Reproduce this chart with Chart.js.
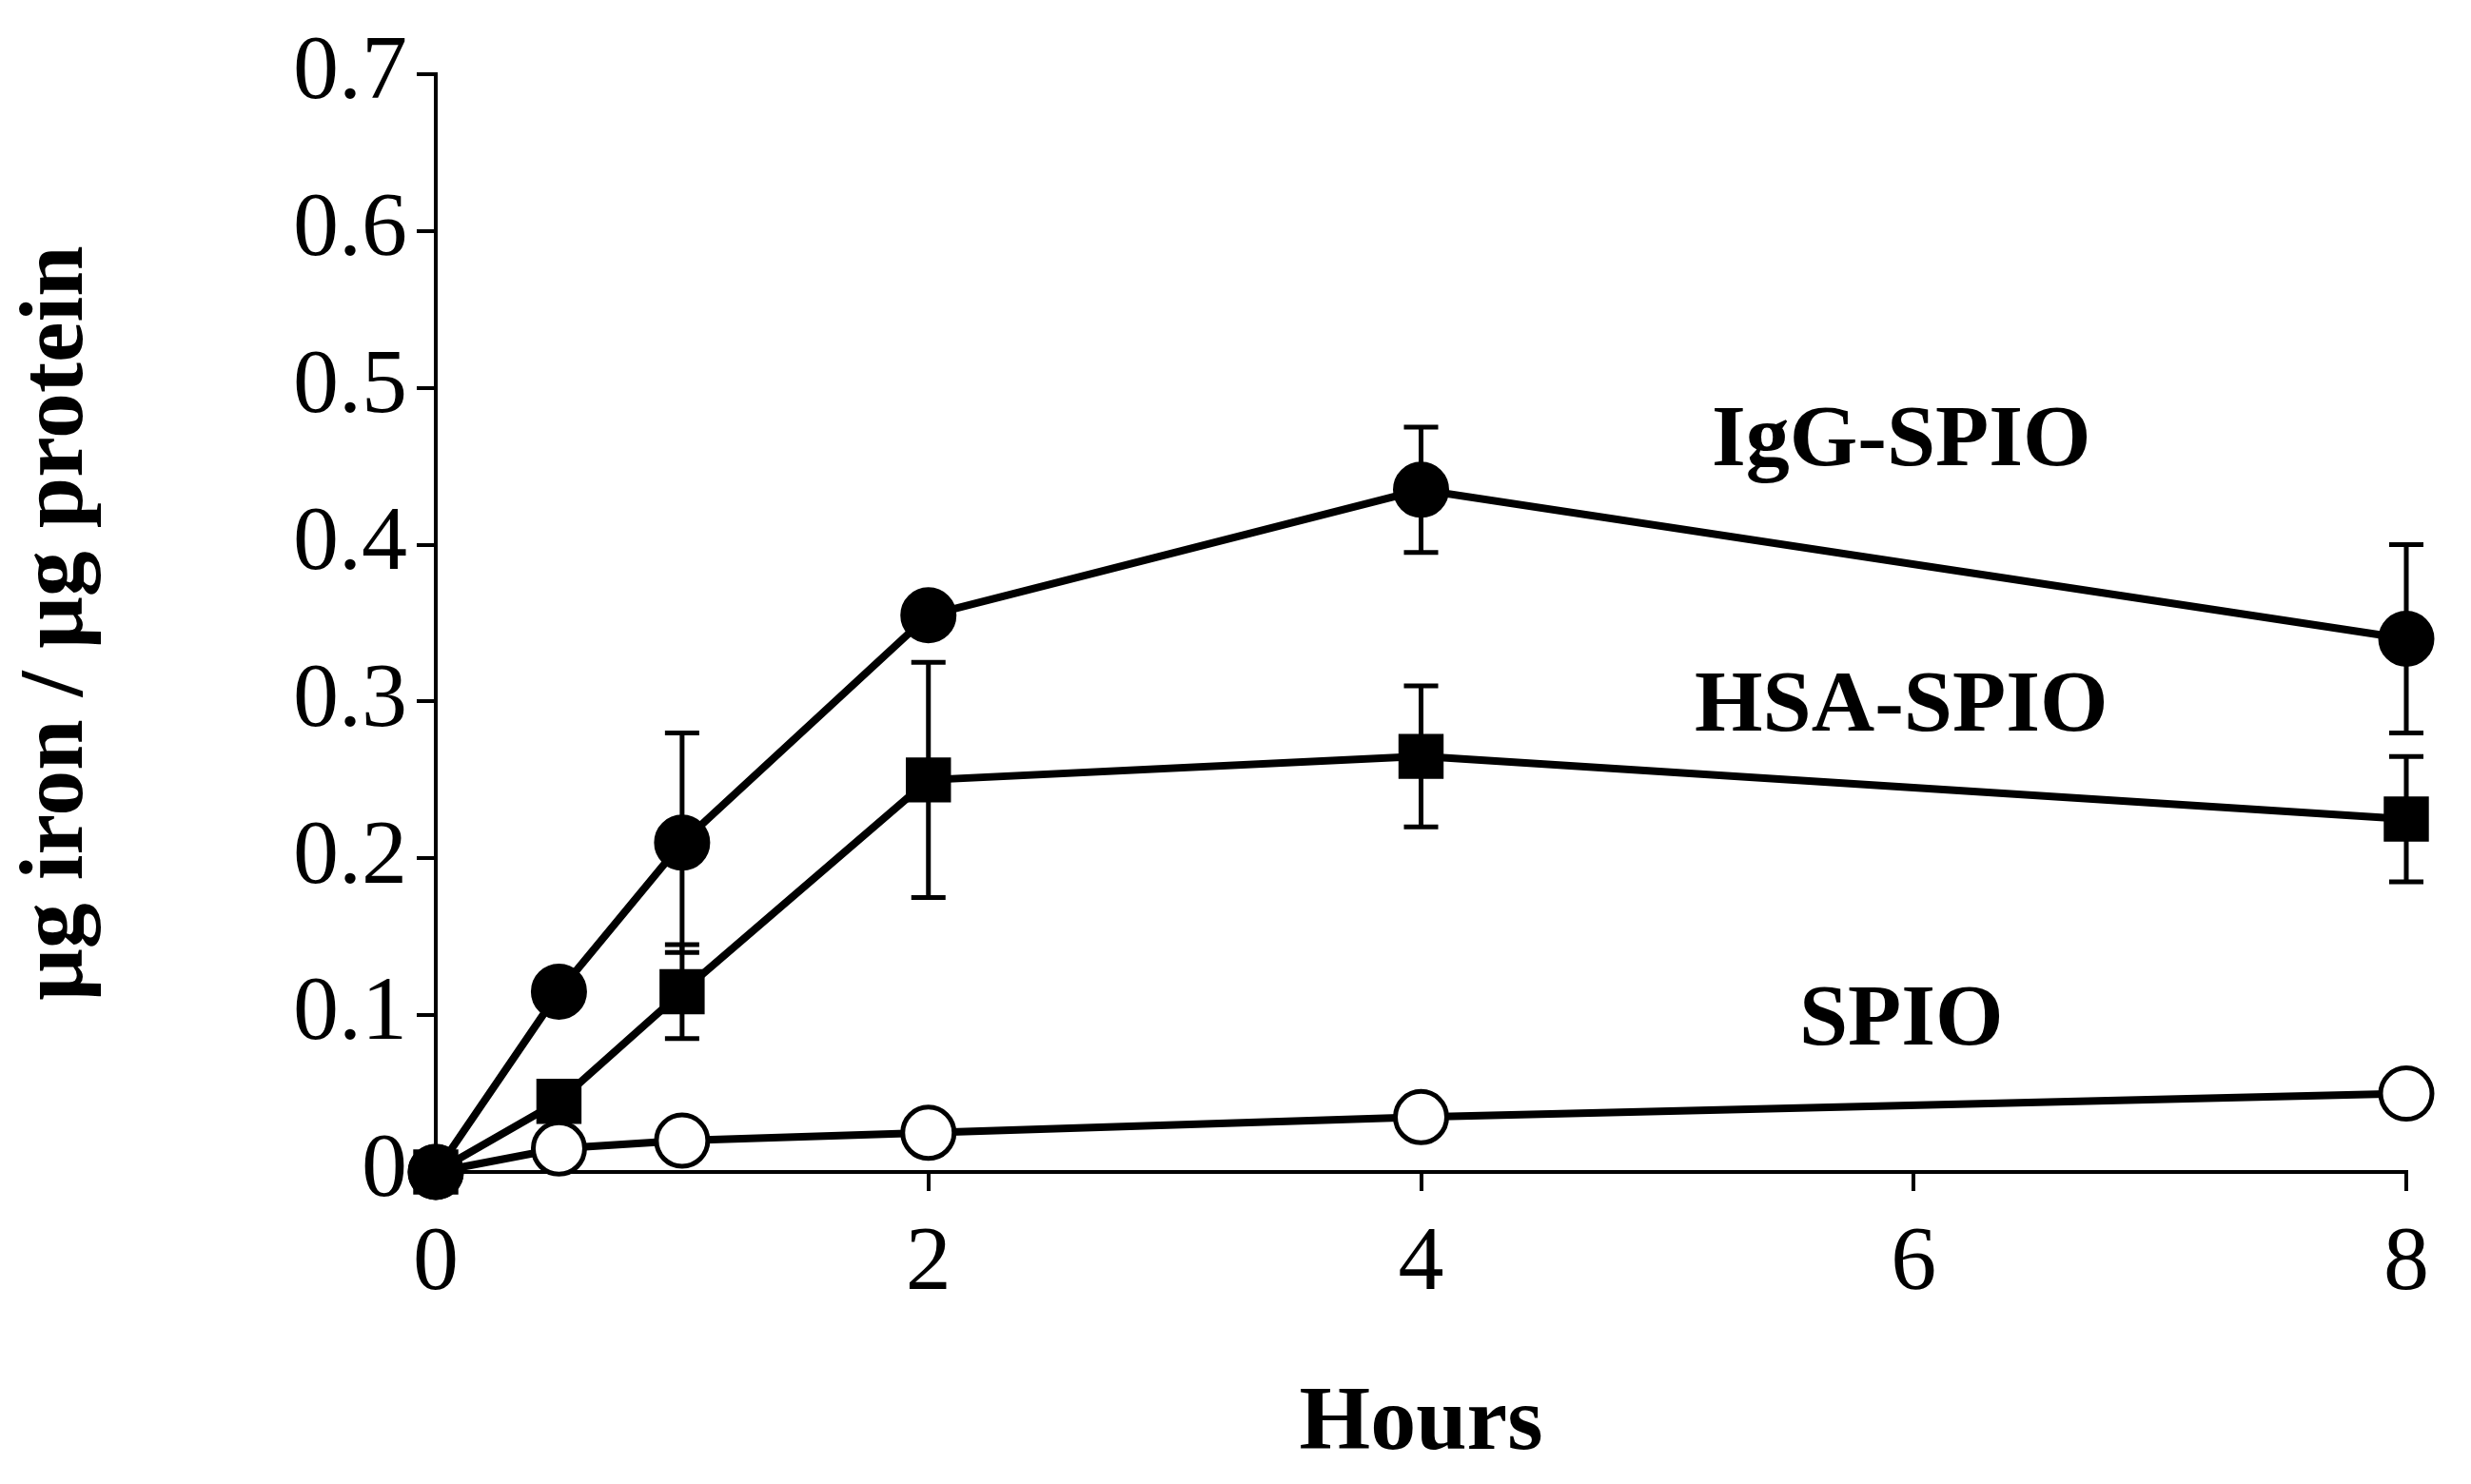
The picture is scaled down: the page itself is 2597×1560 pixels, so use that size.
<!DOCTYPE html>
<html><head><meta charset="utf-8">
<script src="https://cdn.jsdelivr.net/npm/chart.js@4"></script>
<style>html,body{margin:0;padding:0;background:#fff}#w{width:2597px;height:1560px}</style>
</head><body><div id="w"><canvas id="c"></canvas></div>
<script>
const hours = [0, 0.5, 1, 2, 4, 8];
const igg = [0, 0.115, 0.21, 0.355, 0.435, 0.34];
const iggErr = [0, 0.01, 0.07, 0.01, 0.04, 0.06];
const hsa = [0, 0.045, 0.115, 0.25, 0.265, 0.225];
const hsaErr = [0, 0.01, 0.03, 0.075, 0.045, 0.04];
const spio = [0, 0.015, 0.02, 0.025, 0.035, 0.05];
const spioErr = [0, 0, 0, 0, 0, 0];
const xTicks = [0, 2, 4, 6, 8];
const labels = [
  {text: 'IgG-SPIO', x: 5.95, y: 0.465},
  {text: 'HSA-SPIO', x: 5.95, y: 0.296},
  {text: 'SPIO', x: 5.95, y: 0.096}
];
const pts = a => hours.map((h, i) => ({x: h, y: a[i]}));
const errs = [iggErr, hsaErr, spioErr];

const errPlugin = {
  id: 'err',
  beforeDatasetsDraw(chart) {
    const {ctx, scales: {x, y}} = chart;
    ctx.save(); ctx.strokeStyle = '#000'; ctx.lineWidth = 5;
    chart.data.datasets.forEach((ds, di) => {
      ds.data.forEach((p, i) => {
        const e = errs[di][i]; if (!e) return;
        const px = x.getPixelForValue(p.x), t = y.getPixelForValue(p.y + e), b = y.getPixelForValue(p.y - e);
        ctx.beginPath(); ctx.moveTo(px, t); ctx.lineTo(px, b);
        ctx.moveTo(px - 18, t); ctx.lineTo(px + 18, t);
        ctx.moveTo(px - 18, b); ctx.lineTo(px + 18, b); ctx.stroke();
      });
    });
    ctx.restore();
  },
  afterDatasetsDraw(chart) {
    const {ctx, scales: {x, y}} = chart;
    ctx.save(); ctx.fillStyle = '#000'; ctx.font = 'bold 92px "Liberation Serif"';
    ctx.textAlign = 'center'; ctx.textBaseline = 'middle';
    labels.forEach(l => ctx.fillText(l.text, x.getPixelForValue(l.x), y.getPixelForValue(l.y)));
    ctx.restore();
  }
};

new Chart(document.getElementById('c'), {
  type: 'line',
  data: {datasets: [
    {data: pts(igg), pointStyle: 'circle', backgroundColor: '#000'},
    {data: pts(hsa), pointStyle: 'rect', backgroundColor: '#000', pointRadius: 30},
    {data: pts(spio), pointStyle: 'circle', backgroundColor: '#fff'}
  ].map(d => Object.assign({borderColor: '#000', borderWidth: 8, pointRadius: 27, pointBorderColor: '#000', pointBorderWidth: 5, pointHoverRadius: 27, tension: 0, clip: false}, d))},
  options: {
    responsive: true, maintainAspectRatio: false, animation: false,
    layout: {padding: {top: 78, right: 68, left: 0, bottom: 0}},
    plugins: {legend: {display: false}, tooltip: {enabled: false}},
    scales: {
      x: {type: 'linear', min: 0, max: 8,
        afterBuildTicks: s => { s.ticks = xTicks.map(v => ({value: v})); },
        afterFit: s => { s.height = 328; },
        grid: {drawOnChartArea: false, tickLength: 20, color: '#000', lineWidth: 4},
        border: {color: '#000', width: 4},
        ticks: {color: '#000', font: {family: 'Liberation Serif', size: 96}, padding: 20},
        title: {display: true, text: 'Hours', color: '#000', font: {family: 'Liberation Serif', size: 96, weight: 'bold'}, padding: {top: 10}}
      },
      y: {min: 0, max: 0.7,
        afterFit: s => { s.width = 458; },
        grid: {drawOnChartArea: false, tickLength: 20, color: '#000', lineWidth: 4},
        border: {color: '#000', width: 4},
        ticks: {stepSize: 0.1, color: '#000', font: {family: 'Liberation Serif', size: 96}, padding: 10,
          callback: v => v === 0 ? '0' : Number(v).toFixed(1)},
        title: {display: true, text: 'μg iron / μg protein', color: '#000', font: {family: 'Liberation Serif', size: 96, weight: 'bold'}, padding: {bottom: 30}}
      }
    }
  },
  plugins: [errPlugin]
});
</script></body></html>
